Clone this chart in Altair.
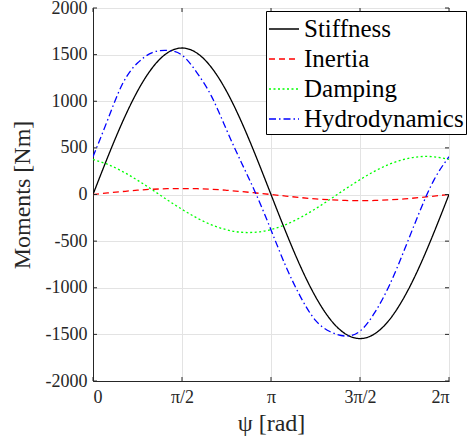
import altair as alt
import pandas as pd
import numpy as np

# sample grid (degrees) and values
psi_deg = [0, 15, 30, 45, 60, 75, 90, 105, 120, 135, 150, 165, 180,
           195, 210, 225, 240, 255, 270, 285, 300, 315, 330, 345, 360]
stiffness = [0, 404, 782, 1108, 1359, 1517, 1571, 1517, 1359, 1108, 782, 404, 0,
             -402, -776, -1095, -1340, -1493, -1545, -1493, -1340, -1095, -776, -402, 0]
inertia = [0, 17, 32, 46, 56, 62, 64, 62, 56, 45, 32, 16, 0,
           -17, -33, -47, -57, -64, -66, -64, -57, -47, -33, -17, 0]
damping = [376, 322, 246, 153, 50, -57, -159, -251, -326, -378, -405, -404, -376,
           -322, -246, -153, -50, 57, 159, 251, 326, 378, 405, 404, 376]
hydro = [405, 805, 1190, 1410, 1522, 1545, 1495, 1308, 1050, 694, 344, 2, -380,
         -770, -1100, -1350, -1472, -1518, -1465, -1265, -967, -590, -192, 160, 405]

series_names = ["Stiffness", "Inertia", "Damping", "Hydrodynamics"]
series_colors = ["#000000", "#ff0000", "#00ff00", "#0000ff"]
series_dash = [[1, 0], [6, 4], [2, 2.5], [7, 3, 1.5, 3]]

y_ticks = [-2000, -1500, -1000, -500, 0, 500, 1000, 1500, 2000]
x_ticks_deg = [0, 90, 180, 270, 360]
x_tick_labels = ["0", "π/2", "π", "3π/2", "2π"]

W, H = 356, 373
FONT = "Liberation Serif"

psi = np.deg2rad(psi_deg)
rows = []
for name, vals in zip(series_names, [stiffness, inertia, damping, hydro]):
    for p, v in zip(psi, vals):
        rows.append({"psi": float(p), "M": v, "series": name})
df = pd.DataFrame(rows)

x_ticks = [float(v) for v in np.deg2rad(x_ticks_deg)]
ytick_df = pd.DataFrame({"M": y_ticks})
xtick_df = pd.DataFrame({"psi": x_ticks})

# label expression built from the tick label list
expr = "'" + x_tick_labels[-1] + "'"
for v, lab in reversed(list(zip(x_ticks[:-1], x_tick_labels[:-1]))):
    expr = f"datum.value < {v + 0.3:.4f} ? '{lab}' : ({expr})"

xscale = alt.Scale(domain=[0, float(2 * np.pi)], nice=False, zero=False)
yscale = alt.Scale(domain=[-2000, 2000], nice=False, zero=False)

legend_kw = dict(title=None, orient="none", legendX=173, legendY=3,
                 symbolType="stroke", symbolSize=900,
                 symbolStrokeWidth=1.5, labelFontSize=25, labelLimit=400,
                 labelFont=FONT, labelOffset=4, rowPadding=1,
                 padding=2, strokeColor="#000000",
                 fillColor="#ffffff", labelColor="#000000")

lines = alt.Chart(df).mark_line(interpolate="natural", strokeWidth=1.3, clip=True).encode(
    x=alt.X("psi:Q", scale=xscale,
            axis=alt.Axis(values=x_ticks, labelExpr=expr, title="ψ [rad]",
                          grid=True, ticks=False, labelPadding=7,
                          labelFontSize=18, titleFontSize=24,
                          titleY=42, titleBaseline="middle")),
    y=alt.Y("M:Q", scale=yscale,
            axis=alt.Axis(values=y_ticks, title="Moments [Nm]",
                          labelExpr="datum.value < 0 ? '-' + abs(datum.value) : '' + datum.value",
                          grid=True, ticks=False, labelPadding=6,
                          labelFontSize=18, titleFontSize=24,
                          titleX=-71, titleY=H / 2, titleBaseline="middle")),
    color=alt.Color("series:N",
                    scale=alt.Scale(domain=series_names, range=series_colors),
                    legend=alt.Legend(**legend_kw)),
    strokeDash=alt.StrokeDash("series:N",
                              scale=alt.Scale(domain=series_names, range=series_dash),
                              legend=alt.Legend(**legend_kw)),
    order=alt.Order("series_order:Q"),
).transform_calculate(
    series_order="indexof(['Stiffness','Inertia','Damping','Hydrodynamics'], datum.series)"
)

tick_color = "#262626"
yl = alt.Chart(ytick_df).mark_rule(color=tick_color, strokeWidth=1).encode(
    y=alt.Y("M:Q", scale=yscale), x=alt.value(0), x2=alt.value(4))
yr = alt.Chart(ytick_df).mark_rule(color=tick_color, strokeWidth=1).encode(
    y=alt.Y("M:Q", scale=yscale), x=alt.value(W - 4), x2=alt.value(W))
xb = alt.Chart(xtick_df).mark_rule(color=tick_color, strokeWidth=1).encode(
    x=alt.X("psi:Q", scale=xscale), y=alt.value(H - 4), y2=alt.value(H))
xt = alt.Chart(xtick_df).mark_rule(color=tick_color, strokeWidth=1).encode(
    x=alt.X("psi:Q", scale=xscale), y=alt.value(0), y2=alt.value(4))

chart = alt.layer(lines, yl, yr, xb, xt).properties(
    width=W, height=H,
    autosize=alt.AutoSizeParams(type="none"),
    padding={"left": 93, "top": 8, "right": 472 - 93 - W, "bottom": 444 - 8 - H},
    background="#ffffff",
).configure_view(
    stroke=tick_color, strokeWidth=1
).configure_axis(
    labelFont=FONT, titleFont=FONT, labelColor="#262626", titleColor="#262626",
    titleFontWeight="normal", domainColor=tick_color, domainWidth=1,
    gridColor="#e3e3e3", gridWidth=1
)

chart.save("out.html", embed_options={"renderer": "svg", "actions": False})
